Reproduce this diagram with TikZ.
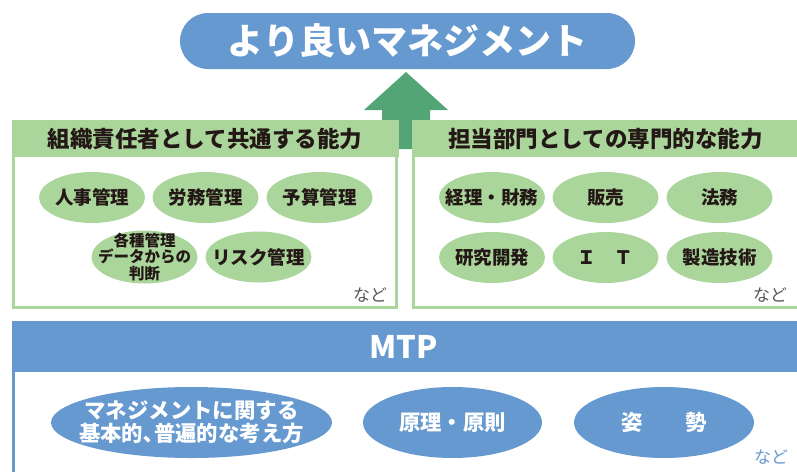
\documentclass[tikz,border=0pt]{standalone}
\usepackage{fontspec}
\setmainfont{Noto Sans CJK JP}
\usetikzlibrary{shapes.geometric,calc}
\definecolor{mblue}{RGB}{102,153,208}
\definecolor{lgreen}{RGB}{170,213,155}
\definecolor{dgreen}{RGB}{84,165,118}
\definecolor{txt}{RGB}{35,24,21}
\definecolor{gtxt}{RGB}{89,87,87}
\tikzset{
  pill/.style={rectangle, rounded corners=28pt, fill=mblue, text=white, minimum width=455pt, minimum height=56pt, inner sep=0pt, font=\fontsize{36}{40}\selectfont\bfseries},
  ghead/.style={rectangle, fill=lgreen, text=txt, minimum width=387pt, minimum height=37pt, inner sep=0pt, font=\fontsize{22.5}{26}\selectfont\bfseries},
  gbox/.style={rectangle, draw=lgreen, line width=3pt, minimum width=383pt, minimum height=186pt, inner sep=0pt},
  gell/.style={ellipse, fill=lgreen, minimum width=106pt, minimum height=51pt, inner sep=0pt},
  gtext/.style={text=txt, inner sep=0pt, align=center, font=\fontsize{18.5}{20}\selectfont\bfseries},
  gsmall/.style={text=txt, inner sep=0pt, align=center, font=\fontsize{15.5}{16.5}\selectfont\bfseries},
  bell/.style={ellipse, fill=mblue, minimum height=71pt, inner sep=0pt},
  btext/.style={text=white, inner sep=0pt, align=center, font=\fontsize{21.4}{23}\selectfont\bfseries},
  nado/.style={text=gtxt, inner sep=0pt, font=\fontsize{17}{20}\selectfont},
  bhead/.style={rectangle, fill=mblue, minimum width=790pt, minimum height=51pt, inner sep=0pt}
}
\begin{document}
\begin{tikzpicture}[x=1pt,y=-1pt]
\useasboundingbox (0,0) rectangle (797,471);
\clip (0,0) rectangle (797,471);

% goal pill
\node[pill] (goal) at (407.5,41) {より良いマネジメント};

% block arrow
\coordinate (tip) at (406,72);
\fill[dgreen] (tip) -- ++(42,38) -- ++(-18,0) -- ++(0,39) -- ++(-48,0) -- ++(0,-39) -- ++(-18,0) -- cycle;

% left box
\node[gbox] (lbox) at (205,214.5) {};
\node[ghead] (lhead) at (205,138.5) {組織責任者として共通する能力};
\node[gell, label={[gtext]center:人事管理}] (l1) at (92,197.5) {};
\node[gell, label={[gtext]center:労務管理}] (l2) at (205.5,197.5) {};
\node[gell, label={[gtext]center:予算管理}] (l3) at (319.5,197.5) {};
\node[gell, minimum height=53pt, label={[gsmall]center:各種管理\\データからの\\判断}] (l4) at (144.5,257) {};
\node[gell, label={[gtext]center:リスク管理}] (l5) at (258.5,257) {};
\node[nado] (lnado) at (370,295) {など};

% right box
\node[gbox, minimum width=390pt] (rbox) at (608.5,214.5) {};
\node[ghead, minimum width=393pt] (rhead) at (608.5,138.5) {};
\node[text=txt, inner sep=0pt, font=\fontsize{22.5}{26}\selectfont\bfseries] (rtitle) at (605.5,138.5) {担当部門としての専門的な能力};
\node[gell, label={[gtext]center:経理・財務}] (r1) at (492,197.5) {};
\node[gell, label={[gtext]center:販売}] (r2) at (605.5,197.5) {};
\node[gell, label={[gtext]center:法務}] (r3) at (719.5,197.5) {};
\node[gell, label={[gtext]center:研究開発}] (r4) at (492,257.5) {};
\node[gell, label={[gtext]center:Ｉ　Ｔ}] (r5) at (605.5,257.5) {};
\node[gell, label={[gtext]center:製造技術}] (r6) at (719.5,257.5) {};
\node[nado] (rnado) at (770,295) {など};

% MTP box
\node[bhead] (mhead) at (407,346.5) {};
\node[text=white, inner sep=0pt, font=\fontsize{31}{34}\selectfont\bfseries] (mtp) at (403.5,347) {MTP};
\draw[mblue, line width=3pt] ($(mhead.south west)+(1.5,0)$) -- ++(0,110);
\node[bell, minimum width=281pt, label={[btext]center:マネジメントに関する\\基本的､普遍的な考え方}] (m1) at (191.5,422.5) {};
\node[bell, minimum width=179pt, label={[btext]center:原理・原則}] (m2) at (452.5,422.5) {};
\node[bell, minimum width=180pt, label={[btext]center:姿　　勢}] (m3) at (664,422.5) {};
\node[nado, text=mblue] (mnado) at (771,457) {など};
\end{tikzpicture}
\end{document}
